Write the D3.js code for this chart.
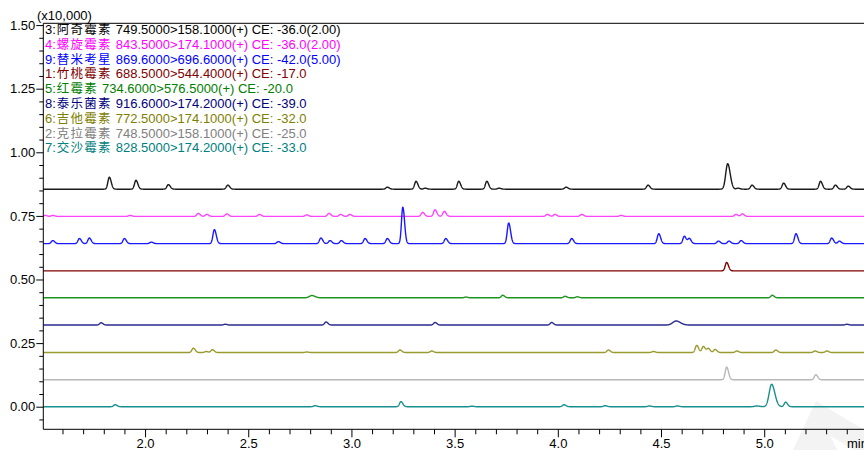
<!DOCTYPE html>
<html>
<head>
<meta charset="utf-8">
<script src="https://cdn.jsdelivr.net/npm/d3@7/dist/d3.min.js"></script>
<style>
  html, body { margin: 0; padding: 0; background: #fff; }
  svg { display: block; }
  .tick text { font-family: "Liberation Sans", Arial, sans-serif; font-size: 13px; fill: #000; }
  .legend text { font-family: "Liberation Sans", Arial, "Noto Sans CJK SC", sans-serif; font-size: 13px; }
  .legend .cjk { font-family: "Noto Sans CJK SC", sans-serif; font-size: 12.5px; letter-spacing: 1.2px; }
</style>
</head>
<body>
<svg id="chart" width="864" height="450"></svg>
<script>
// MRM chromatogram traces, intensity in units of 10,000 counts.
// Each trace: channel number, compound, transition text, baseline offset and a
// peak table [retention time (min), height, sigma (min, optional)].
const traceIds = ["3", "4", "9", "1", "5", "8", "6", "2", "7"];
const compounds = ["阿奇霉素", "螺旋霉素", "替米考星", "竹桃霉素", "红霉素", "泰乐菌素", "吉他霉素", "克拉霉素", "交沙霉素"];
const transitions = [
  "749.5000>158.1000(+) CE: -36.0(2.00)",
  "843.5000>174.1000(+) CE: -36.0(2.00)",
  "869.6000>696.6000(+) CE: -42.0(5.00)",
  "688.5000>544.4000(+) CE: -17.0",
  "734.6000>576.5000(+) CE: -20.0",
  "916.6000>174.2000(+) CE: -39.0",
  "772.5000>174.1000(+) CE: -32.0",
  "748.5000>158.1000(+) CE: -25.0",
  "828.5000>174.2000(+) CE: -33.0"
];
const legendColors = ["#000000", "#ff00ff", "#0000ff", "#800000", "#008000", "#000080", "#808000", "#808080", "#008080"];
const lineColors   = ["#1a1a1a", "#ff44ff", "#1a1aff", "#800000", "#1f951f", "#2a2a90", "#9a9a30", "#b8b8b8", "#1a8f8f"];
const baselines = [0.855, 0.748, 0.641, 0.534, 0.428, 0.321, 0.213, 0.106, 0.000];

const peaks3 = [
  [1.827, 0.047], [1.956, 0.035], [2.113, 0.018], [2.401, 0.016], [3.174, 0.008],
  [3.313, 0.031], [3.357, 0.004], [3.520, 0.031], [3.656, 0.031], [3.715, 0.004],
  [4.040, 0.008], [4.437, 0.016], [4.823, 0.100, 0.0095], [4.873, 0.004], [4.941, 0.016],
  [5.094, 0.024], [5.273, 0.031], [5.345, 0.016], [5.407, 0.012]
];
const peaks4 = [
  [1.516, 0.004], [1.553, 0.004], [1.927, 0.004], [2.258, 0.012], [2.299, 0.008],
  [2.396, 0.010], [2.554, 0.008], [2.783, 0.006], [2.891, 0.012], [2.947, 0.008],
  [2.992, 0.008], [3.345, 0.016], [3.405, 0.026], [3.450, 0.020], [3.949, 0.008],
  [3.986, 0.008], [4.116, 0.008], [4.306, 0.004], [4.863, 0.008], [4.894, 0.010]
];
const peaks9 = [
  [1.553, 0.012], [1.682, 0.020], [1.730, 0.022], [1.900, 0.020], [2.030, 0.006],
  [2.336, 0.055], [2.646, 0.008], [2.852, 0.022], [2.896, 0.012], [2.951, 0.012],
  [3.066, 0.020], [3.174, 0.020], [3.249, 0.143, 0.0065], [3.457, 0.020], [3.762, 0.081],
  [4.067, 0.020], [4.489, 0.039], [4.613, 0.029], [4.637, 0.020], [4.778, 0.010],
  [4.829, 0.010], [4.888, 0.012], [5.154, 0.039], [5.327, 0.022], [5.364, 0.010]
];
const peaks1 = [[4.818, 0.033]];
const peaks5 = [
  [2.808, 0.009, 0.012], [3.554, 0.003], [3.733, 0.010], [4.035, 0.006], [4.094, 0.004], [5.039, 0.010]
];
const peaks8 = [
  [1.787, 0.009], [2.388, 0.003], [2.877, 0.012], [3.405, 0.010], [3.970, 0.010],
  [4.573, 0.016, 0.016], [5.400, 0.003]
];
const peaks6 = [
  [2.234, 0.017], [2.296, 0.004], [2.326, 0.011], [2.783, 0.002], [3.235, 0.010],
  [3.389, 0.006], [4.245, 0.010], [4.463, 0.004], [4.673, 0.028], [4.705, 0.024],
  [4.729, 0.016], [4.762, 0.012], [4.867, 0.006], [5.056, 0.010], [5.246, 0.006], [5.303, 0.006]
];
const peaks2 = [[4.818, 0.050], [5.250, 0.020]];
const peaks7 = [
  [1.855, 0.008], [2.824, 0.004], [3.240, 0.020], [3.583, 0.002], [4.030, 0.008],
  [4.229, 0.004], [4.443, 0.003], [4.579, 0.003], [4.964, 0.003, 0.01],
  [5.036, 0.088, 0.012], [5.104, 0.018]
];
const peakTables = [peaks3, peaks4, peaks9, peaks1, peaks5, peaks8, peaks6, peaks2, peaks7];

const xMajorTicks = [2.0, 2.5, 3.0, 3.5, 4.0, 4.5, 5.0];
const yMajorTicks = [0.00, 0.25, 0.50, 0.75, 1.00, 1.25, 1.50];

const svg = d3.select("#chart");
const x = d3.scaleLinear().domain([1.507, 5.5]).range([43.3, 867.4]);
const y = d3.scaleLinear().domain([-0.0888, 1.507]).range([429.3, 23.3]);

// faint logo in the lower right corner
svg.append("polygon")
  .attr("points", "792,452 816,401 866,431 866,457 830.5,436 838,452")
  .attr("fill", "#f3f3f3");

// peak shape: gaussian with a slightly longer trailing side
const defaultSigma = 0.007;
function signal(table, t) {
  let v = 0;
  for (const p of table) {
    const s = (p[2] || defaultSigma) * (t < p[0] ? 1 : 1.3);
    const z = (t - p[0]) / s;
    if (Math.abs(z) < 6) v += p[1] * Math.exp(-0.5 * z * z);
  }
  return v;
}
const times = d3.range(1.507, 5.5, 0.0008);
const line = d3.line().x(d => x(d[0])).y(d => y(d[1]));

const plot = svg.append("g");
peakTables.forEach((table, i) => {
  const pts = times.map(t => [t, baselines[i] + signal(table, t)]);
  plot.append("path")
    .attr("d", line(pts))
    .attr("fill", "none")
    .attr("stroke", lineColors[i])
    .attr("stroke-width", 1.4)
    .attr("stroke-linejoin", "round");
});

// frame: top border, left and bottom axes
svg.append("line").attr("x1", x.range()[0]).attr("x2", 864).attr("y1", y.range()[1]).attr("y2", y.range()[1])
  .attr("stroke", "#000").attr("stroke-width", 1);

const yMinor = d3.range(-0.05, 1.5001, 0.05).filter(v => !yMajorTicks.some(m => Math.abs(m - v) < 1e-6));
svg.append("g").attr("transform", `translate(${x.range()[0]},0)`)
  .call(d3.axisLeft(y).tickValues(yMinor).tickSize(4).tickFormat(""))
  .call(g => g.select(".domain").remove())
  .selectAll("line").attr("stroke", "#000");
svg.append("g").attr("transform", `translate(${x.range()[0]},0)`)
  .call(d3.axisLeft(y).tickValues(yMajorTicks).tickSize(7).tickPadding(1).tickFormat(d3.format(".2f")))
  .call(g => g.select(".domain").attr("d", `M0,${y.range()[1]}V${y.range()[0]}`))
  .call(g => g.selectAll("line").attr("stroke", "#000"));

const xMinor = d3.range(1.6, 5.45, 0.1).filter(v => !xMajorTicks.some(m => Math.abs(m - v) < 1e-6));
svg.append("g").attr("transform", `translate(0,${y.range()[0]})`)
  .call(d3.axisBottom(x).tickValues(xMinor).tickSize(5).tickFormat(""))
  .call(g => g.select(".domain").remove())
  .selectAll("line").attr("stroke", "#000");
svg.append("g").attr("transform", `translate(0,${y.range()[0]})`)
  .call(d3.axisBottom(x).tickValues(xMajorTicks).tickSize(8).tickPadding(1).tickFormat(d3.format(".1f")))
  .call(g => g.select(".domain").attr("d", `M${x.range()[0]},0H864`))
  .call(g => g.selectAll("line").attr("stroke", "#000"));

// axis unit labels
svg.append("text").attr("x", 847).attr("y", 448)
  .attr("font-family", "Liberation Sans, Arial, sans-serif").attr("font-size", 13).text("min");
svg.append("text").attr("x", 37).attr("y", 20)
  .attr("font-family", "Liberation Sans, Arial, sans-serif").attr("font-size", 13).text("(x10,000)");

// legend: "n:compound transition"
const legend = svg.append("g").attr("class", "legend");
traceIds.forEach((id, i) => {
  const t = legend.append("text")
    .attr("x", 45)
    .attr("y", 34 + i * 14.8)
    .attr("fill", legendColors[i]);
  t.append("tspan").text(id + ":");
  t.append("tspan").attr("class", "cjk").attr("dx", 1).text(compounds[i]);
  t.append("tspan").attr("dx", 0.5).text(" " + transitions[i]);
});
</script>
</body>
</html>
